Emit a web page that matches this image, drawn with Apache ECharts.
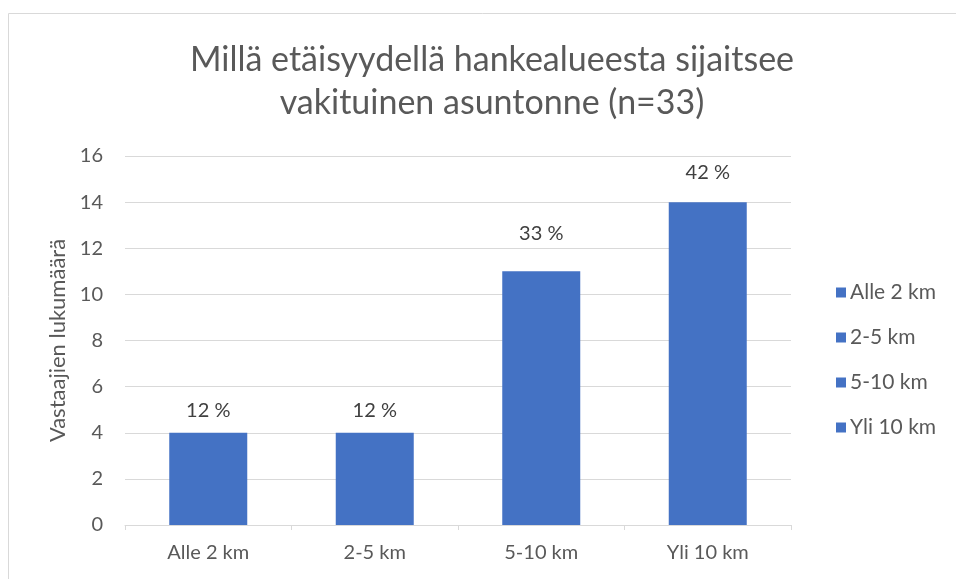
<!DOCTYPE html>
<html>
<head>
<meta charset="utf-8">
<script src="https://cdn.jsdelivr.net/npm/echarts@6/dist/echarts.min.js"></script>
<style>html,body{margin:0;padding:0;background:#fff}#c{width:956px;height:579px}</style>
</head>
<body>
<div id="c"></div>
<script>
const categories = ["Alle 2 km", "2-5 km", "5-10 km", "Yli 10 km"];
const values = [4, 4, 11, 14];
const percentLabels = ["12 %", "12 %", "33 %", "42 %"];
const yTicks = [0, 2, 4, 6, 8, 10, 12, 14, 16];

const FONT = "Lato, 'Open Sans', sans-serif";
const labelDistances = [12, 12, 28, 20];
const chart = echarts.init(document.getElementById('c'));
const series = categories.map((name, i) => ({
  name: name,
  type: 'bar',
  barWidth: 78,
  barGap: '-100%',
  itemStyle: { color: '#4472C4' },
  label: {
    show: true, position: 'top', distance: labelDistances[i],
    color: '#404040', fontSize: 20, fontFamily: FONT,
    formatter: () => percentLabels[i]
  },
  data: categories.map((c, j) => j === i ? values[j] : null)
}));
chart.setOption({
  animation: false,
  title: {
    text: 'Millä etäisyydellä hankealueesta sijaitsee\nvakituinen asuntonne (n=33)',
    left: 487, top: 34, textAlign: 'center',
    textStyle: { color: '#595959', fontSize: 34, fontWeight: 'normal', fontFamily: FONT, lineHeight: 43 }
  },
  graphic: [{
    type: 'rect', left: 6, top: 11, silent: true,
    shape: { width: 960, height: 566 },
    style: { fill: 'none', stroke: '#d9d9d9', lineWidth: 1 }
  }],
  legend: {
    orient: 'vertical', left: 831, top: 277,
    itemWidth: 10, itemHeight: 10, itemGap: 24,
    icon: 'rect',
    textStyle: { color: '#595959', fontSize: 21, fontFamily: FONT, padding: [0, 0, 0, -1] },
    data: categories
  },
  grid: { left: 125, right: 165, top: 156, bottom: 54, containLabel: false },
  xAxis: {
    type: 'category', data: categories,
    axisLine: { lineStyle: { color: '#d9d9d9', width: 1 } },
    axisTick: { show: true, length: 5, lineStyle: { color: '#d9d9d9' } },
    axisLabel: { color: '#595959', fontSize: 20, fontFamily: FONT, margin: 18 }
  },
  yAxis: {
    type: 'value', min: yTicks[0], max: yTicks[yTicks.length - 1], interval: 2,
    name: 'Vastaajien lukumäärä', nameLocation: 'middle', nameGap: 55,
    nameTextStyle: { color: '#595959', fontSize: 22, fontFamily: FONT },
    axisLine: { show: false }, axisTick: { show: false },
    axisLabel: { color: '#595959', fontSize: 20, fontFamily: FONT, margin: 22 },
    splitLine: { lineStyle: { color: '#d9d9d9', width: 1 } }
  },
  series: series
});
</script>
</body>
</html>
